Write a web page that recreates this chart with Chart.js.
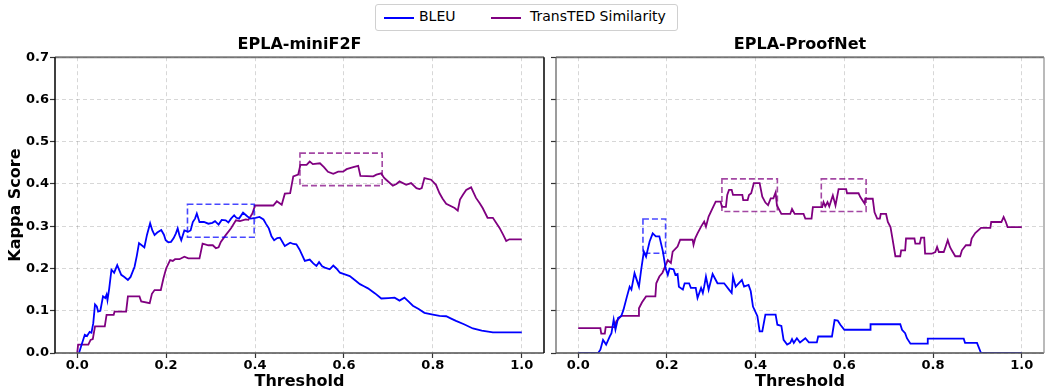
<!DOCTYPE html>
<html>
<head>
<meta charset="utf-8">
<script src="https://cdn.jsdelivr.net/npm/chart.js@4"></script>
<style>
  body { margin: 0; background: #fff; width: 1045px; height: 390px; position: relative; overflow: hidden; font-family: "DejaVu Sans", sans-serif; }
  canvas { position: absolute; top: 0; }
  #leyenda { position: absolute; left: 375px; top: 4px; width: 301px; height: 25px; border: 1px solid #d0d0d0; border-radius: 3px; background: #fff; font-size: 14px; color: #000; }
  #leyenda span.linea { position: absolute; top: 12px; width: 30px; height: 2px; }
  #leyenda span.txt { position: absolute; top: 3px; white-space: nowrap; }
</style>
</head>
<body>
<div id="leyenda">
  <span class="linea" style="left:8px;background:#0000ff"></span><span class="txt" style="left:43px">BLEU</span>
  <span class="linea" style="left:115px;background:#800080"></span><span class="txt" style="left:154px">TransTED Similarity</span>
</div>
<canvas id="graficoMini" width="550" height="390" style="left:0px"></canvas>
<canvas id="graficoProof" width="496" height="390" style="left:549px"></canvas>
<script>
// ticks de los ejes
const ticksX = [0.0, 0.2, 0.4, 0.6, 0.8, 1.0];
const ticksY = [0.0, 0.1, 0.2, 0.3, 0.4, 0.5, 0.6, 0.7];

// EPLA-miniF2F, pares [threshold, kappa]
const miniBleu = [
  [0.004,0],[0.01,0.02],[0.017,0.043],[0.022,0.04],[0.028,0.05],[0.032,0.048],[0.036,0.07],[0.04,0.115],
  [0.044,0.11],[0.047,0.098],[0.052,0.1],[0.058,0.134],[0.063,0.13],[0.066,0.138],[0.068,0.125],[0.072,0.153],
  [0.077,0.197],[0.083,0.19],[0.09,0.208],[0.095,0.195],[0.099,0.185],[0.106,0.18],[0.114,0.173],[0.12,0.18],
  [0.129,0.204],[0.134,0.23],[0.139,0.26],[0.145,0.255],[0.151,0.25],[0.157,0.28],[0.164,0.307],[0.169,0.29],
  [0.174,0.279],[0.18,0.285],[0.189,0.291],[0.195,0.28],[0.199,0.267],[0.205,0.262],[0.211,0.263],[0.217,0.272],
  [0.222,0.283],[0.226,0.295],[0.23,0.278],[0.234,0.267],[0.241,0.29],[0.249,0.287],[0.255,0.29],[0.26,0.31],
  [0.265,0.318],[0.269,0.33],[0.275,0.31],[0.285,0.31],[0.295,0.306],[0.304,0.308],[0.31,0.312],[0.318,0.304],
  [0.325,0.315],[0.334,0.314],[0.34,0.309],[0.346,0.318],[0.353,0.326],[0.358,0.32],[0.364,0.318],[0.373,0.332],
  [0.383,0.323],[0.39,0.318],[0.401,0.32],[0.41,0.322],[0.419,0.316],[0.425,0.305],[0.431,0.295],[0.437,0.276],
  [0.443,0.267],[0.45,0.272],[0.456,0.273],[0.462,0.262],[0.467,0.253],[0.479,0.261],[0.486,0.258],[0.493,0.257],
  [0.5,0.245],[0.512,0.218],[0.523,0.221],[0.531,0.212],[0.538,0.206],[0.544,0.215],[0.551,0.205],[0.557,0.202],
  [0.568,0.198],[0.576,0.207],[0.583,0.2],[0.591,0.19],[0.602,0.186],[0.613,0.182],[0.625,0.172],[0.636,0.163],
  [0.645,0.158],[0.654,0.153],[0.67,0.141],[0.684,0.129],[0.7,0.13],[0.714,0.131],[0.725,0.124],[0.736,0.131],
  [0.745,0.122],[0.755,0.112],[0.768,0.104],[0.781,0.095],[0.8,0.091],[0.815,0.088],[0.83,0.087],[0.84,0.082],
  [0.852,0.076],[0.87,0.068],[0.89,0.058],[0.91,0.053],[0.935,0.049],[1.0,0.049]
];
const miniTed = [
  [0,0],[0.002,0.02],[0.025,0.02],[0.03,0.031],[0.035,0.033],[0.04,0.063],[0.062,0.063],[0.066,0.09],
  [0.082,0.09],[0.084,0.098],[0.11,0.098],[0.114,0.134],[0.14,0.134],[0.144,0.122],[0.163,0.118],[0.168,0.14],
  [0.174,0.149],[0.188,0.149],[0.194,0.177],[0.2,0.2],[0.209,0.22],[0.215,0.218],[0.22,0.222],[0.23,0.222],
  [0.241,0.228],[0.25,0.224],[0.275,0.224],[0.282,0.259],[0.295,0.255],[0.305,0.255],[0.312,0.248],[0.318,0.25],
  [0.323,0.263],[0.334,0.279],[0.346,0.295],[0.357,0.314],[0.366,0.312],[0.379,0.316],[0.385,0.315],[0.394,0.33],
  [0.4,0.349],[0.441,0.349],[0.449,0.359],[0.46,0.351],[0.467,0.377],[0.479,0.378],[0.486,0.418],[0.497,0.422],
  [0.502,0.445],[0.516,0.445],[0.523,0.453],[0.53,0.447],[0.546,0.449],[0.555,0.44],[0.564,0.429],[0.576,0.424],
  [0.587,0.429],[0.598,0.429],[0.606,0.435],[0.621,0.44],[0.632,0.443],[0.637,0.419],[0.666,0.418],[0.673,0.422],
  [0.684,0.425],[0.69,0.415],[0.695,0.41],[0.71,0.396],[0.718,0.4],[0.725,0.406],[0.74,0.398],[0.751,0.402],
  [0.763,0.39],[0.77,0.388],[0.775,0.39],[0.781,0.414],[0.796,0.41],[0.807,0.398],[0.815,0.378],[0.822,0.365],
  [0.83,0.353],[0.849,0.343],[0.856,0.337],[0.861,0.363],[0.868,0.375],[0.875,0.386],[0.886,0.392],[0.897,0.367],
  [0.905,0.355],[0.912,0.343],[0.923,0.32],[0.935,0.32],[0.95,0.296],[0.958,0.28],[0.965,0.265],[0.972,0.269],
  [1.0,0.269]
];

// EPLA-ProofNet
const proofBleu = [
  [0,0],[0.045,0],[0.05,0.008],[0.056,0.031],[0.063,0.02],[0.071,0.039],[0.075,0.047],[0.08,0.079],
  [0.084,0.055],[0.09,0.083],[0.097,0.087],[0.102,0.102],[0.11,0.134],[0.116,0.157],[0.12,0.15],[0.127,0.189],
  [0.132,0.173],[0.137,0.157],[0.142,0.197],[0.148,0.24],[0.153,0.228],[0.161,0.264],[0.168,0.283],[0.175,0.276],
  [0.183,0.276],[0.191,0.24],[0.197,0.201],[0.202,0.185],[0.206,0.2],[0.215,0.198],[0.219,0.185],[0.224,0.187],
  [0.227,0.157],[0.236,0.15],[0.24,0.165],[0.25,0.165],[0.254,0.154],[0.265,0.154],[0.269,0.13],[0.277,0.154],
  [0.281,0.142],[0.284,0.157],[0.288,0.181],[0.294,0.15],[0.303,0.187],[0.314,0.165],[0.329,0.165],[0.34,0.15],
  [0.346,0.142],[0.349,0.181],[0.355,0.157],[0.369,0.173],[0.374,0.157],[0.384,0.161],[0.389,0.146],[0.394,0.11],
  [0.404,0.087],[0.409,0.051],[0.415,0.051],[0.422,0.091],[0.445,0.091],[0.449,0.067],[0.458,0.064],[0.463,0.031],
  [0.471,0.02],[0.478,0.024],[0.482,0.033],[0.486,0.024],[0.493,0.035],[0.5,0.025],[0.512,0.035],[0.52,0.025],
  [0.538,0.025],[0.541,0.039],[0.572,0.039],[0.578,0.078],[0.585,0.077],[0.591,0.067],[0.6,0.055],[0.659,0.055],
  [0.659,0.068],[0.726,0.068],[0.73,0.055],[0.737,0.047],[0.741,0.035],[0.749,0.022],[0.788,0.022],[0.788,0.034],
  [0.869,0.034],[0.872,0.024],[0.899,0.024],[0.908,0],[1.0,0]
];
const proofTed = [
  [0,0.059],[0.05,0.059],[0.052,0.046],[0.06,0.046],[0.062,0.061],[0.082,0.061],[0.086,0.075],[0.097,0.088],
  [0.135,0.088],[0.137,0.106],[0.144,0.12],[0.153,0.134],[0.174,0.134],[0.176,0.165],[0.183,0.181],[0.19,0.19],
  [0.202,0.22],[0.209,0.213],[0.213,0.24],[0.224,0.252],[0.23,0.268],[0.258,0.268],[0.26,0.256],[0.264,0.272],
  [0.269,0.283],[0.277,0.299],[0.284,0.311],[0.288,0.299],[0.294,0.323],[0.303,0.343],[0.31,0.358],[0.321,0.358],
  [0.324,0.346],[0.333,0.346],[0.336,0.374],[0.34,0.386],[0.346,0.386],[0.349,0.374],[0.37,0.374],[0.372,0.362],
  [0.382,0.362],[0.385,0.374],[0.39,0.378],[0.396,0.402],[0.409,0.402],[0.415,0.37],[0.422,0.356],[0.428,0.35],
  [0.434,0.366],[0.44,0.366],[0.445,0.38],[0.448,0.349],[0.458,0.329],[0.478,0.329],[0.482,0.341],[0.488,0.329],
  [0.508,0.329],[0.512,0.318],[0.526,0.318],[0.529,0.345],[0.55,0.345],[0.553,0.357],[0.557,0.347],[0.562,0.357],
  [0.566,0.347],[0.574,0.373],[0.58,0.349],[0.587,0.388],[0.604,0.388],[0.606,0.378],[0.632,0.378],[0.636,0.369],
  [0.646,0.353],[0.647,0.365],[0.664,0.365],[0.668,0.333],[0.674,0.318],[0.68,0.318],[0.682,0.329],[0.694,0.329],
  [0.698,0.31],[0.704,0.298],[0.709,0.267],[0.715,0.229],[0.726,0.229],[0.728,0.243],[0.737,0.243],[0.739,0.271],
  [0.758,0.271],[0.76,0.259],[0.77,0.259],[0.773,0.273],[0.78,0.273],[0.782,0.235],[0.797,0.235],[0.805,0.239],
  [0.809,0.251],[0.813,0.239],[0.824,0.239],[0.828,0.251],[0.833,0.267],[0.838,0.251],[0.842,0.243],[0.85,0.229],
  [0.861,0.229],[0.865,0.243],[0.874,0.255],[0.884,0.255],[0.887,0.271],[0.895,0.284],[0.908,0.296],[0.929,0.296],
  [0.931,0.31],[0.954,0.31],[0.959,0.322],[0.964,0.31],[0.968,0.298],[1.0,0.298]
];

// cajas punteadas [x1, x2, y1, y2]
const cajasMini = [
  {serie: 'bleu', box: [0.248, 0.398, 0.274, 0.352]},
  {serie: 'ted', box: [0.501, 0.686, 0.396, 0.473]}
];
const cajasProof = [
  {serie: 'bleu', box: [0.146, 0.197, 0.236, 0.317]},
  {serie: 'ted', box: [0.324, 0.449, 0.335, 0.412]},
  {serie: 'ted', box: [0.548, 0.649, 0.335, 0.412]}
];

const AZUL = '#0000ff';
const MORADO = '#800080';
const colorCaja = {bleu: 'rgba(0,0,255,0.72)', ted: 'rgba(128,0,128,0.72)'};
const fuente = '"DejaVu Sans", sans-serif';

//dibujo las cajas punteadas y el marco de cada panel
const marcoYCajas = {
  id: 'marcoYCajas',
  afterDatasetsDraw(chart, args, opts) {
    const {ctx, chartArea: a, scales: {x, y}} = chart;
    ctx.save();
    ctx.lineWidth = 1.6;
    ctx.setLineDash([6, 3]);
    opts.cajas.forEach(c => {
      const x1 = x.getPixelForValue(c.box[0]);
      const x2 = x.getPixelForValue(c.box[1]);
      const y1 = y.getPixelForValue(c.box[2]);
      const y2 = y.getPixelForValue(c.box[3]);
      ctx.strokeStyle = colorCaja[c.serie];
      ctx.strokeRect(x1, y2, x2 - x1, y1 - y2);
    });
    ctx.setLineDash([]);
    const linea = (x1, y1, x2, y2, color, w) => {
      ctx.strokeStyle = color;
      ctx.lineWidth = w;
      ctx.beginPath();
      ctx.moveTo(x1, y1);
      ctx.lineTo(x2, y2);
      ctx.stroke();
    };
    linea(a.left, a.top, a.right, a.top, 'rgba(90,90,90,0.8)', 2);
    linea(a.left, a.bottom, a.right, a.bottom, 'rgba(90,90,90,0.8)', 2);
    linea(a.left, a.top, a.left, a.bottom, opts.izq, 1.5);
    linea(a.right, a.top, a.right, a.bottom, opts.der, 1.5);
    ctx.restore();
  }
};

const puntos = (arr) => arr.map(p => ({x: p[0], y: p[1]}));

const crearGrafico = (id, titulo, bleu, ted, cajas, conEtiquetas, marco) => {
  const canvas = document.getElementById(id);
  return new Chart(canvas, {
    type: 'line',
    data: {
      datasets: [
        {label: 'BLEU', data: puntos(bleu), borderColor: AZUL, borderWidth: 1.8, pointRadius: 0, tension: 0, fill: false},
        {label: 'TransTED Similarity', data: puntos(ted), borderColor: MORADO, borderWidth: 1.8, pointRadius: 0, tension: 0, fill: false}
      ]
    },
    options: {
      responsive: false,
      animation: false,
      events: [],
      layout: {padding: {left: 0, right: marco.padDer, top: 0, bottom: 0}},
      plugins: {
        legend: {display: false},
        tooltip: {enabled: false},
        title: {
          display: true,
          fullSize: false,
          text: titulo,
          color: '#000',
          font: {family: fuente, size: 16, weight: 'bold', lineHeight: 1.2},
          padding: {top: 35, bottom: 3}
        },
        marcoYCajas: {cajas: cajas, izq: marco.izq, der: marco.der}
      },
      scales: {
        x: {
          type: 'linear',
          min: -0.05,
          max: 1.05,
          afterBuildTicks: (scale) => { scale.ticks = ticksX.map(v => ({value: v})); },
          afterFit: (scale) => { scale.height = 37; },
          border: {display: false, dash: [4, 3]},
          grid: {color: 'rgba(0,0,0,0.2)', lineWidth: 0.8, drawTicks: true, tickLength: 5, tickColor: '#333', tickWidth: 1.2, tickBorderDash: []},
          ticks: {color: '#000', padding: 0, font: {family: fuente, size: 13, weight: 'bold'}, callback: (v) => v.toFixed(1), maxRotation: 0},
          title: {display: true, text: 'Threshold', color: '#000', font: {family: fuente, size: 16, weight: 'bold', lineHeight: 1}, padding: {top: 0, bottom: 0}}
        },
        y: {
          type: 'linear',
          min: 0,
          max: 0.7,
          afterBuildTicks: (scale) => { scale.ticks = ticksY.map(v => ({value: v})); },
          afterFit: (scale) => { scale.width = marco.anchoY; },
          border: {display: false, dash: [4, 3]},
          grid: {color: 'rgba(0,0,0,0.2)', lineWidth: 0.8, drawTicks: true, tickLength: 5, tickColor: '#333', tickWidth: 1.2, tickBorderDash: []},
          ticks: {color: '#000', padding: 1, font: {family: fuente, size: 13, weight: 'bold'}, callback: (v) => conEtiquetas ? v.toFixed(1) : ''},
          title: {display: conEtiquetas, text: 'Kappa Score', color: '#000', font: {family: fuente, size: 16, weight: 'bold', lineHeight: 1.2}, padding: {top: 6, bottom: 0}}
        }
      }
    },
    plugins: [marcoYCajas]
  });
};

crearGrafico('graficoMini', 'EPLA-miniF2F', miniBleu, miniTed, cajasMini, true,
  {anchoY: 55, padDer: 6, izq: '#000', der: '#000'});
crearGrafico('graficoProof', 'EPLA-ProofNet', proofBleu, proofTed, cajasProof, false,
  {anchoY: 7, padDer: 1, izq: 'rgba(90,90,90,0.8)', der: 'rgba(140,140,140,0.8)'});
</script>
</body>
</html>
